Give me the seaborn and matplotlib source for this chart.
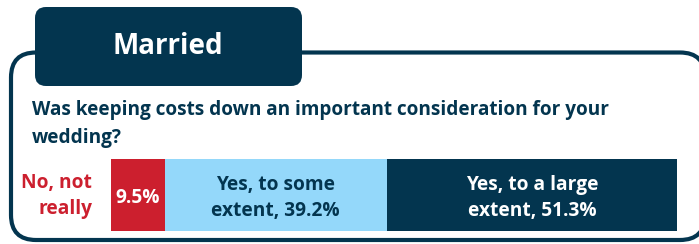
import matplotlib
matplotlib.use("Agg")
import matplotlib.pyplot as plt
from matplotlib.patches import FancyBboxPatch
import seaborn as sns
import numpy as np

# ---- data ----
categories = ["No, not really", "Yes, to some extent", "Yes, to a large extent"]
values = [9.5, 39.2, 51.3]
bar_labels = ["9.5%", "Yes, to some\nextent, 39.2%", "Yes, to a large\nextent, 51.3%"]
colors = ["#CC1F2E", "#94D8FA", "#03354F"]
label_colors = ["white", "#03354F", "white"]
title = "Married"
question = "Was keeping costs down an important consideration for your\nwedding?"
side_label = "No, not\nreally"

sns.set_theme(style="white")
plt.rcParams["font.family"] = ["Open Sans", "DejaVu Sans"]

W, H = 699, 244
fig = plt.figure(figsize=(W / 100, H / 100), dpi=100)
navy = "#03354F"

# overlay axes in pixel coordinates
bg = fig.add_axes([0, 0, 1, 1])
bg.set_xlim(0, W)
bg.set_ylim(H, 0)
bg.axis("off")

# outer frame
frame = FancyBboxPatch((11, 52.5), 694, 187.5, boxstyle="round,pad=0,rounding_size=25",
                       linewidth=3.0, edgecolor=navy, facecolor="white", zorder=1)
bg.add_patch(frame)
# tab
tab = FancyBboxPatch((35, 7), 267, 79, boxstyle="round,pad=0,rounding_size=11",
                     linewidth=0, facecolor=navy, zorder=2)
bg.add_patch(tab)
bg.text(168, 47, title, color="white", fontsize=20, fontweight="bold",
        ha="center", va="center", zorder=3)
bg.text(32, 124, question, color=navy, fontsize=13.7, fontweight="bold",
        ha="left", va="center", linespacing=1.48, zorder=3)
bg.text(92, 196, side_label, color="#CC1F2E", fontsize=13.8, fontweight="bold",
        ha="right", va="center", linespacing=1.45, zorder=3)

# bar axes
x0, x1, y0, y1 = 111, 677, 159, 231
ax = fig.add_axes([x0 / W, 1 - y1 / H, (x1 - x0) / W, (y1 - y0) / H])
cum = np.cumsum(values)
for i in range(len(values) - 1, -1, -1):
    sns.barplot(x=[cum[i]], y=[0], orient="h", color=colors[i], width=1,
                saturation=1, ax=ax, linewidth=0)
ax.set_xlim(0, 100)
ax.set_ylim(0.5, -0.5)
ax.axis("off")
starts = np.concatenate([[0], cum[:-1]])
for i, lab in enumerate(bar_labels):
    ax.text(starts[i] + values[i] / 2, 0.04, lab, color=label_colors[i], fontsize=13.8,
            fontweight="bold", ha="center", va="center", linespacing=1.45)

fig.savefig("out.png", dpi=100)
